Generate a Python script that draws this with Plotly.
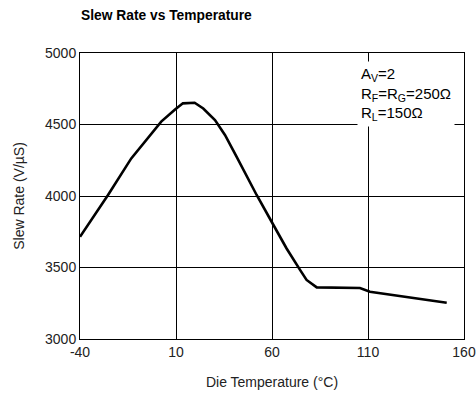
import plotly.graph_objects as go

temp_c = [-40, -25.4, -13.3, 2.3, 9.5, 13.6, 19.7, 24.2, 30.3, 35.5, 41.6, 52, 59.8, 67.6, 74.6, 78, 83.3, 105.8, 111, 151]
slew_rate = [3715, 4007, 4263, 4520, 4605, 4648, 4652, 4612, 4531, 4427, 4274, 4007, 3820, 3633, 3483, 3413, 3361, 3357, 3331, 3254]
x_ticks = [-40, 10, 60, 110, 160]
y_ticks = [3000, 3500, 4000, 4500, 5000]

FONT = "Liberation Sans, Arial, sans-serif"
W, H = 476, 401

fig = go.Figure()
fig.add_trace(go.Scatter(x=temp_c, y=slew_rate, mode="lines",
                         line=dict(color="black", width=2.6), showlegend=False,
                         hoverinfo="skip"))

fig.update_layout(
    width=W, height=H,
    margin=dict(l=80, r=12, t=53, b=62, autoexpand=False),
    paper_bgcolor="white", plot_bgcolor="white",
    font=dict(family=FONT, size=14, color="#222"),
    title=dict(text="<b>Slew Rate vs Temperature</b>", x=81/W, xanchor="left",
               y=1-15/H, yanchor="middle", font=dict(size=13.8, family=FONT, color="black"),
               automargin=False),
    xaxis=dict(range=[-40, 160], tickvals=x_ticks, ticktext=[str(v) for v in x_ticks],
               showgrid=True, gridcolor="black", gridwidth=1, zeroline=False,
               showline=True, linecolor="black", linewidth=1, mirror=True,
               ticks="", ticklen=0, tickfont=dict(size=14), automargin=False,
               title=dict(text="Die Temperature (°C)", font=dict(size=14), standoff=18)),
    yaxis=dict(range=[3000, 5000], tickvals=y_ticks, ticktext=[str(v) for v in y_ticks],
               showgrid=True, gridcolor="black", gridwidth=1, zeroline=False,
               showline=True, linecolor="black", linewidth=1, mirror=True,
               ticks="", ticklen=0, tickfont=dict(size=14), automargin=False,
               title=dict(text="Slew Rate (V/µS)", font=dict(size=14), standoff=17)),
)

fig.add_annotation(
    xref="paper", yref="paper",
    x=(357-80)/384, y=1-(61-53)/286, xanchor="left", yanchor="top",
    text="A<sub>V</sub>=2<br>R<sub>F</sub>=R<sub>G</sub>=250Ω<br>R<sub>L</sub>=150Ω",
    align="left", showarrow=False, bgcolor="white", borderpad=3,
    font=dict(size=15, family=FONT, color="black"),
)

fig.write_html("out.html", config={"displayModeBar": False},
               post_script="document.body.style.margin='0';")
